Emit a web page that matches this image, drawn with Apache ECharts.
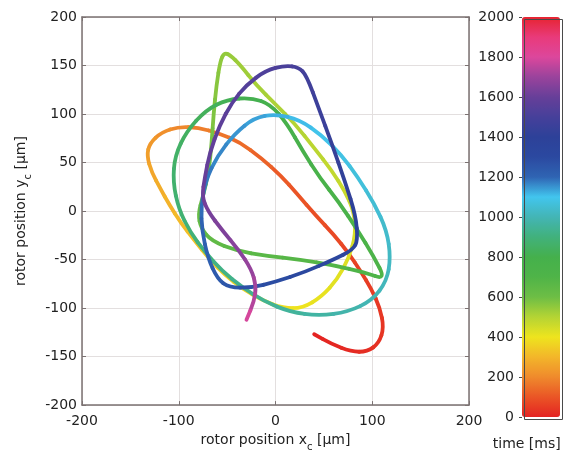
<!DOCTYPE html>
<html>
<head>
<meta charset="utf-8">
<script src="https://cdn.jsdelivr.net/npm/echarts@6/dist/echarts.min.js"></script>
<style>
    html, body { margin: 0; padding: 0; background: #fff; }
    #chart { width: 563px; height: 457px; }
</style>
</head>
<body>
<div id="chart"></div>
<script>
// rotor trajectory (um), with time stamp (ms)
const posX = [40, 58, 78, 95, 107, 112, 108, 99, 88, 76,
    60, 42, 22, 6, -15, -37, -58, -80, -100, -118,
    -130, -133, -128, -119, -110, -98, -84, -68, -52, -34,
    -14, 8, 28, 48, 64, 76, 83, 81, 72, 58,
    40, 20, 0, -20, -36, -47, -53, -57, -61, -64,
    -66, -69, -75, -80, -77, -66, -40, -10, 25, 60,
    92, 114, 101, 85, 65, 46, 28, 12, -5, -25,
    -50, -72, -92, -104, -106, -100, -88, -73, -55, -35,
    -12, 15, 45, 75, 100, 115, 119, 115, 102, 85,
    68, 48, 25, 0, -22, -42, -60, -72, -77, -76,
    -70, -60, -48, -25, 0, 30, 60, 80, 85, 83,
    72, 58, 45, 32, 24, 10, -10, -30, -45, -58,
    -68, -73, -76, -70, -55, -38, -25, -20, -22, -30];
const posY = [-127, -137, -145, -145, -136, -120, -100, -80, -62, -44,
    -24, -5, 18, 36, 55, 71, 80, 86, 87, 81,
    70, 57, 40, 23, 7, -12, -30, -50, -66, -80,
    -92, -100, -100, -88, -70, -48, -24, 0, 20, 42,
    65, 90, 110, 130, 150, 161, 163, 155, 130, 100,
    70, 40, 15, -3, -18, -31, -41, -46, -50, -56,
    -63, -71, -46, -20, 10, 34, 62, 90, 110, 117,
    115, 104, 82, 57, 30, 2, -22, -42, -62, -78,
    -93, -104, -108, -104, -92, -72, -48, -20, 8, 35,
    58, 78, 94, 100, 96, 80, 57, 32, 5, -20,
    -48, -70, -79, -79, -73, -63, -50, -40, -30, -5,
    30, 70, 105, 140, 148, 150, 145, 130, 112, 88,
    60, 35, 15, 0, -20, -40, -60, -77, -93, -112];
const timeMs = [0, 7, 14, 21, 28, 35, 42, 50, 58, 66,
    76, 86, 98, 110, 125, 142, 160, 178, 196, 214,
    232, 248, 264, 280, 294, 308, 322, 336, 350, 362,
    374, 386, 398, 410, 420, 430, 440, 452, 464, 476,
    488, 500, 510, 520, 530, 540, 546, 552, 562, 574,
    586, 598, 610, 620, 630, 640, 652, 664, 676, 688,
    700, 712, 724, 736, 748, 760, 772, 784, 796, 808,
    820, 832, 844, 856, 868, 880, 892, 904, 916, 928,
    940, 954, 968, 982, 996, 1010, 1024, 1038, 1052, 1066,
    1080, 1094, 1108, 1122, 1136, 1150, 1164, 1178, 1192, 1206,
    1220, 1236, 1252, 1270, 1290, 1310, 1330, 1355, 1380, 1400,
    1420, 1440, 1460, 1480, 1500, 1512, 1525, 1540, 1555, 1570,
    1585, 1600, 1615, 1630, 1645, 1665, 1690, 1715, 1740, 1790];

// colour bar: 0..2000 ms, one colour per 100 ms
const timeRange = [0, 2000];
const barColors = ['#e42322', '#ea5526', '#ef8a2c', '#f3b62a', '#eee41e', '#b4d434',
    '#6dbe45', '#4fb448', '#45b04c', '#41b17c', '#43b5b5', '#42c5ee', '#2f64b3',
    '#2b49a0', '#2d4199', '#46409a', '#673f99', '#9a439c', '#dc479c', '#e93a7a', '#e62430'];

const font = 'DejaVu Sans';
const axisGray = '#7b7272';
const barEdge = '#4a4a4a';

const trajectory = posX.map((x, i) => [x, posY[i], timeMs[i]]);

const chart = echarts.init(document.getElementById('chart'));

// 画轨迹：每段用二次贝塞尔连接相邻中点，颜色由 visualMap 按时间映射
function renderSegment(params, api) {
    const i = params.dataIndex;
    const n = posX.length;
    const p = api.coord([api.value(0), api.value(1)]);
    const prev = i > 0 ? api.coord([posX[i - 1], posY[i - 1]]) : p;
    const next = i < n - 1 ? api.coord([posX[i + 1], posY[i + 1]]) : p;
    const a = [(prev[0] + p[0]) / 2, (prev[1] + p[1]) / 2];
    const b = [(next[0] + p[0]) / 2, (next[1] + p[1]) / 2];
    return {
        type: 'bezierCurve',
        shape: { x1: a[0], y1: a[1], x2: b[0], y2: b[1], cpx1: p[0], cpy1: p[1] },
        style: { stroke: api.visual('color'), fill: null, lineWidth: 3.8, lineCap: 'round' }
    };
}

const plainNum = (v) => String(v);

const subRich = {
    a: { fontFamily: font, fontSize: 14, color: '#222', lineHeight: 16, verticalAlign: 'top' },
    s: { fontFamily: font, fontSize: 10, color: '#222', lineHeight: 10, padding: [9, 0, 0, 0], verticalAlign: 'top' }
};

const plainAxis = {
    min: -200, max: 200,
    axisLine: { onZero: false, lineStyle: { color: axisGray, width: 1.5 } },
    axisTick: { inside: true, length: 4, lineStyle: { color: axisGray } },
    axisLabel: { show: false },
    splitLine: { show: false }
};

const option = {
    animation: false,
    grid: [
        { left: 82, right: 94, top: 17, bottom: 48 },
        { left: 522, top: 17, width: 38, height: 400 }
    ],
    xAxis: [
        {
            type: 'value', gridIndex: 0, min: -200, max: 200, interval: 100, position: 'bottom',
            axisLine: { onZero: false, lineStyle: { color: axisGray, width: 1.5 } },
            axisTick: { inside: true, length: 4, lineStyle: { color: axisGray } },
            axisLabel: { fontFamily: font, fontSize: 14, color: '#222', margin: 9, formatter: plainNum },
            splitLine: { lineStyle: { color: '#e3dfdf', width: 1 } },
            name: '{a|rotor position x}{s|c}{a| [μm]}',
            nameLocation: 'middle', nameGap: 22,
            nameTextStyle: { rich: subRich }
        },
        Object.assign({ type: 'value', gridIndex: 0, position: 'top', interval: 100 }, plainAxis),
        {
            type: 'value', gridIndex: 1, min: 0, max: 1, position: 'bottom',
            axisLine: { show: false }, axisTick: { show: false }, axisLabel: { show: false },
            splitLine: { show: false },
            name: 'time [ms]', nameLocation: 'middle', nameGap: 20,
            nameTextStyle: { fontFamily: font, fontSize: 14, color: '#222' }
        }
    ],
    yAxis: [
        {
            type: 'value', gridIndex: 0, min: -200, max: 200, interval: 50, position: 'left',
            axisLine: { onZero: false, lineStyle: { color: axisGray, width: 1.5 } },
            axisTick: { inside: true, length: 4, lineStyle: { color: axisGray } },
            axisLabel: { fontFamily: font, fontSize: 14, color: '#222', margin: 5, formatter: plainNum },
            splitLine: { lineStyle: { color: '#e3dfdf', width: 1 } },
            name: '{a|rotor position y}{s|c}{a| [μm]}',
            nameLocation: 'middle', nameGap: 52, nameRotate: 90,
            nameTextStyle: { rich: subRich }
        },
        Object.assign({ type: 'value', gridIndex: 0, position: 'right', interval: 50 }, plainAxis),
        {
            type: 'value', gridIndex: 1, min: timeRange[0], max: timeRange[1], interval: 200, position: 'left',
            axisLine: { show: false },
            axisTick: { inside: false, length: 3, lineStyle: { color: barEdge } },
            axisLabel: { fontFamily: font, fontSize: 14, color: '#222', margin: 8, formatter: plainNum },
            splitLine: { show: false }
        }
    ],
    visualMap: {
        type: 'continuous',
        min: timeRange[0], max: timeRange[1],
        dimension: 2, seriesIndex: 0,
        calculable: false, hoverLink: false,
        left: 522, top: 17, padding: 0,
        itemWidth: 38, itemHeight: 400,
        inRange: { color: barColors }
    },
    // 色条外框
    graphic: [{
        type: 'rect', left: 522, top: 17, z: 100,
        shape: { width: 38, height: 400 },
        style: { fill: null, stroke: barEdge, lineWidth: 1 }
    }],
    series: [
        {
            type: 'custom',
            xAxisIndex: 0, yAxisIndex: 0,
            encode: { x: 0, y: 1 },
            renderItem: renderSegment,
            data: trajectory,
            clip: true
        }
    ]
};

chart.setOption(option);
</script>
</body>
</html>
